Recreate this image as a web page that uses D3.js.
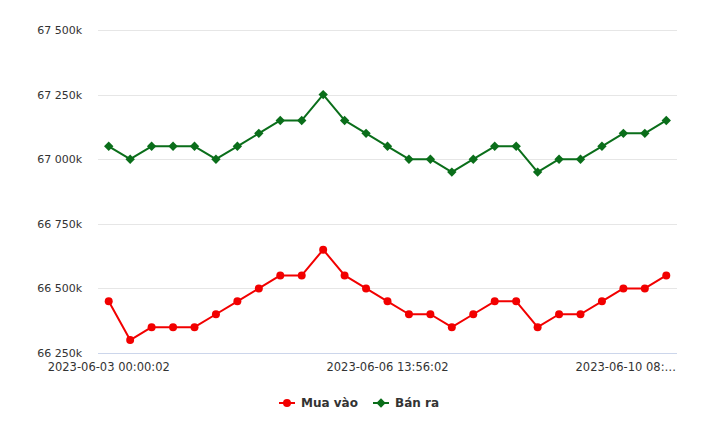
<!DOCTYPE html>
<html><head><meta charset="utf-8">
<script src="https://cdn.jsdelivr.net/npm/d3@7/dist/d3.min.js"></script>
<style>body{margin:0;background:#fff}svg{display:block}</style>
</head><body><svg id="c" width="720" height="428"></svg>
<script>
const categories = [
 "2023-06-03 00:00:02","2023-06-03 08:30:02","2023-06-03 14:10:02","2023-06-04 00:00:02","2023-06-04 09:15:02",
 "2023-06-05 00:00:02","2023-06-05 08:40:02","2023-06-05 10:20:02","2023-06-05 14:05:02","2023-06-06 00:00:02",
 "2023-06-06 08:35:02","2023-06-06 10:15:02","2023-06-06 11:30:02","2023-06-06 13:56:02","2023-06-07 00:00:02",
 "2023-06-07 08:45:02","2023-06-07 10:30:02","2023-06-07 14:20:02","2023-06-08 00:00:02","2023-06-08 08:50:02",
 "2023-06-08 13:40:02","2023-06-09 00:00:02","2023-06-09 08:30:02","2023-06-09 14:15:02","2023-06-10 00:00:02",
 "2023-06-10 08:10:02","2023-06-10 08:45:02"];
const muaVao = [66450,66300,66350,66350,66350,66400,66450,66500,66550,66550,66650,66550,66500,66450,66400,66400,66350,66400,66450,66450,66350,66400,66400,66450,66500,66500,66550];
const banRa  = [67050,67000,67050,67050,67050,67000,67050,67100,67150,67150,67250,67150,67100,67050,67000,67000,66950,67000,67050,67050,66950,67000,67000,67050,67100,67100,67150];
const yTicks = [66250,66500,66750,67000,67250,67500];
const xTickIdx = [0,13,26];
const seriesNames = ["Mua vào","Bán ra"];
const seriesColors = ["#f20000","#0a6e1a"];

const svg = d3.select("#c");
const L=98,R=677,T=30,B=353;
const font = "DejaVu Sans, Verdana, sans-serif";
const x = d3.scaleBand().domain(d3.range(categories.length)).range([L,R]);
const y = d3.scaleLinear().domain([66250,67500]).range([B,T]);
const label = v => { const s = String(v); return s.slice(0,2)+" "+s.slice(2)+"k"; };

// grid
svg.append("g").selectAll("line").data(yTicks.filter(v=>v!==66250)).join("line")
 .attr("x1",L).attr("x2",R).attr("y1",d=>Math.round(y(d))+0.5).attr("y2",d=>Math.round(y(d))+0.5)
 .attr("stroke","#e6e6e6").attr("stroke-width",1);
// y axis labels
const yAxis = d3.axisLeft(y).tickValues(yTicks).tickFormat(label).tickSize(0).tickPadding(0);
const ya = svg.append("g").attr("transform",`translate(${L-16},0)`).call(yAxis);
ya.select(".domain").remove();
ya.selectAll("text").attr("font-family",font).attr("font-size","11px").attr("fill","#333").attr("dy","0.32em");
// x axis line
svg.append("line").attr("x1",L).attr("x2",R).attr("y1",B+0.5).attr("y2",B+0.5).attr("stroke","#ccd6eb");
// x labels
const xAxis = d3.axisBottom(x).tickValues(xTickIdx).tickFormat(i=>categories[i]).tickSize(0).tickPadding(0);
const xa = svg.append("g").attr("transform",`translate(0,${B+10})`).call(xAxis);
xa.select(".domain").remove();
xa.selectAll("text").attr("font-family",font).attr("font-size","11.5px").attr("fill","#333").attr("dy","0.71em");
xa.selectAll(".tick").each(function(i){
  const t = d3.select(this).select("text");
  const cx = x(i)+x.bandwidth()/2;
  const w = t.node().getComputedTextLength();
  const maxR = 676;
  if (cx + w/2 > maxR) {
    const full = categories[i];
    const avail = 105;
    let n = full.length;
    while (t.node().getComputedTextLength() > avail && n>1) { n--; t.text(full.slice(0,n)+"…"); }
    t.attr("text-anchor","end").attr("x", maxR - cx);
  }
});

// lines
[muaVao, banRa].forEach((vals,si)=>{
  const line = d3.line().x((d,i)=>x(i)+x.bandwidth()/2).y(d=>y(d));
  svg.append("path").datum(vals).attr("d",line).attr("fill","none")
    .attr("stroke",seriesColors[si]).attr("stroke-width",2).attr("stroke-linejoin","round").attr("stroke-linecap","round");
  const sym = si===0 ? d3.symbol(d3.symbolCircle, 50) : d3.symbol(d3.symbolDiamond2, 56);
  svg.append("g").selectAll("path").data(vals).join("path")
    .attr("transform",(d,i)=>`translate(${x(i)+x.bandwidth()/2},${y(d)})`)
    .attr("d",sym).attr("fill",seriesColors[si]);
});

// legend
const lg = svg.append("g").attr("transform","translate(0,403)");
const itemX = [279,373];
seriesNames.forEach((n,si)=>{
  const it = lg.append("g").attr("transform",`translate(${itemX[si]},0)`);
  it.append("line").attr("x1",0).attr("x2",16).attr("y1",0).attr("y2",0).attr("stroke",seriesColors[si]).attr("stroke-width",2);
  const sym = si===0 ? d3.symbol(d3.symbolCircle, 50) : d3.symbol(d3.symbolDiamond2, 56);
  it.append("path").attr("transform","translate(8,0)").attr("d",sym).attr("fill",seriesColors[si]);
  it.append("text").attr("x",22).attr("y",0).attr("dy","0.35em").attr("font-family",font)
    .attr("font-size","12px").attr("font-weight","bold").attr("fill","#333").text(n);
});
</script></body></html>
